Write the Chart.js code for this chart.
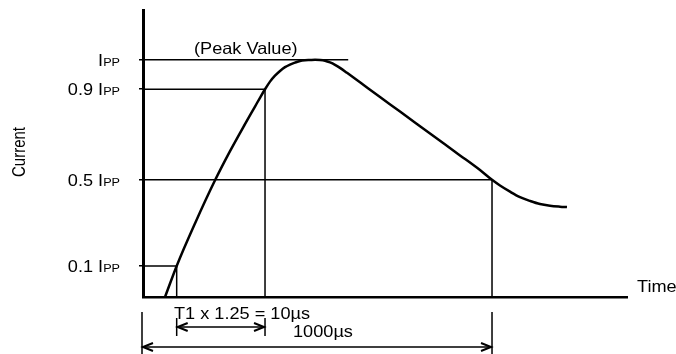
<!DOCTYPE html>
<html>
<head>
<meta charset="utf-8">
<script src="https://cdn.jsdelivr.net/npm/chart.js@4/dist/chart.umd.min.js"></script>
<style>
  html, body { margin: 0; padding: 0; background: #fff; }
  #wrap { width: 676px; height: 354px; position: relative; }
</style>
</head>
<body>
<div id="wrap"><canvas id="surge"></canvas></div>
<script>
// waveform (relative time units, current as fraction of Ipp)
const TIME = [4.55, 6.96, 10.74, 14.88, 17.98, 21.07, 23.14, 24.17, 25.21, 26.24, 27.27, 28.31, 29.34, 30.37, 31.40, 32.44, 33.47, 34.50, 35.54, 36.57, 37.60, 38.64, 39.67, 40.70, 42.15, 44.83, 48.97, 53.10, 59.30, 65.50, 69.63, 72.11, 73.76, 75.83, 77.89, 79.96, 82.02, 84.09, 86.16, 87.60];
const CURRENT = [0, 0.131, 0.310, 0.492, 0.615, 0.729, 0.803, 0.840, 0.876, 0.908, 0.933, 0.953, 0.969, 0.980, 0.988, 0.995, 0.998, 0.999, 1.0, 0.999, 0.996, 0.989, 0.979, 0.966, 0.945, 0.905, 0.843, 0.782, 0.689, 0.597, 0.535, 0.494, 0.470, 0.444, 0.421, 0.405, 0.392, 0.385, 0.381, 0.379];

// reference levels as drawn, their labels and the time where each line stops
const LEVELS = [0.131, 0.494, 0.876, 1.0];
const LEVEL_LABELS = ["0.1 ", "0.5 ", "0.9 ", ""];
const LEVEL_ENDS = [6.96, 72.11, 25.21, 42.4];
const LEVEL_DROP = [true, true, true, false];

// dimension annotations
const T_FRONT = [6.96, 25.21];   // 0.1 Ipp -> 0.9 Ipp
const T_TAIL = [0, 72.11];       // origin -> 0.5 Ipp on the tail
const FRONT_TEXT = "T1 x 1.25 = 10µs";
const TAIL_TEXT = "1000µs";

const FONT = '"Liberation Sans", Arial, sans-serif';
const SX = 1.1; // the scan is a little wider than tall

function drawParts(ctx, parts, x, y, align) {
  let total = 0;
  parts.forEach(p => {
    ctx.font = p.size + "px " + FONT;
    p.w = ctx.measureText(p.text).width * SX;
    total += p.w;
  });
  let cx = align === "right" ? x - total : x;
  ctx.textAlign = "left";
  ctx.textBaseline = "alphabetic";
  parts.forEach(p => {
    ctx.font = p.size + "px " + FONT;
    ctx.save();
    ctx.translate(cx, y);
    ctx.scale(SX, 1);
    ctx.fillText(p.text, 0, 0);
    ctx.restore();
    cx += p.w;
  });
}

function arrowHead(ctx, x, y, dir) {
  ctx.beginPath();
  ctx.moveTo(x - dir * 10, y - 4);
  ctx.lineTo(x, y);
  ctx.lineTo(x - dir * 10, y + 4);
  ctx.stroke();
}

function dimension(ctx, x1, x2, y, top, bottom) {
  ctx.lineWidth = 1.5;
  ctx.beginPath();
  ctx.moveTo(x1, top); ctx.lineTo(x1, bottom);
  ctx.moveTo(x2, top); ctx.lineTo(x2, bottom);
  ctx.moveTo(x1, y); ctx.lineTo(x2, y);
  ctx.stroke();
  ctx.lineWidth = 2;
  arrowHead(ctx, x1 + 1, y, -1);
  arrowHead(ctx, x2 - 1, y, 1);
}

const labelsPlugin = {
  id: "surgeLabels",
  afterDraw(chart) {
    const ctx = chart.ctx;
    const xs = chart.scales.x;
    const ys = chart.scales.y;
    ctx.save();
    ctx.fillStyle = "#000";
    ctx.strokeStyle = "#000";

    LEVELS.forEach((v, i) => {
      const py = ys.getPixelForValue(v) + 6;
      drawParts(ctx, [
        { text: LEVEL_LABELS[i] + "I", size: 16.5 },
        { text: "PP", size: 11.5 }
      ], 120, py, "right");
    });

    drawParts(ctx, [{ text: "(Peak Value)", size: 16.5 }], 194, 54, "left");
    drawParts(ctx, [{ text: "Time", size: 16.5 }], 637, 292, "left");
    drawParts(ctx, [{ text: FRONT_TEXT, size: 16.5 }], 174, 319, "left");
    drawParts(ctx, [{ text: TAIL_TEXT, size: 16.5 }], 293, 337, "left");

    // vertical axis title
    ctx.save();
    ctx.translate(25, 152);
    ctx.rotate(-Math.PI / 2);
    ctx.scale(1, 1.2);
    ctx.font = "15px " + FONT;
    ctx.textAlign = "center";
    ctx.textBaseline = "alphabetic";
    ctx.fillText("Current", 0, 0);
    ctx.restore();

    dimension(ctx, xs.getPixelForValue(T_FRONT[0]), xs.getPixelForValue(T_FRONT[1]), 327, 318, 336);
    dimension(ctx, xs.getPixelForValue(T_TAIL[0]) - 1, xs.getPixelForValue(T_TAIL[1]), 347, 312, 354);
    ctx.restore();
  }
};

const refSets = LEVELS.map((v, i) => {
  const pts = [{ x: 0, y: v }, { x: LEVEL_ENDS[i], y: v }];
  if (LEVEL_DROP[i]) pts.push({ x: LEVEL_ENDS[i], y: 0 });
  return {
    data: pts,
    showLine: true,
    borderColor: "#000",
    borderWidth: 1.5,
    pointRadius: 0,
    tension: 0,
    clip: false
  };
});

const curveSet = {
  data: TIME.map((t, i) => ({ x: t, y: CURRENT[i] })),
  showLine: true,
  borderColor: "#000",
  borderWidth: 2.5,
  pointRadius: 0,
  cubicInterpolationMode: "monotone",
  clip: false
};

new Chart(document.getElementById("surge"), {
  type: "scatter",
  data: { datasets: [...refSets, curveSet] },
  options: {
    responsive: true,
    maintainAspectRatio: false,
    devicePixelRatio: 1,
    animation: false,
    layout: { padding: { top: 10, right: 49, left: 0, bottom: 0 } },
    plugins: { legend: { display: false }, tooltip: { enabled: false } },
    scales: {
      x: {
        type: "linear",
        min: 0,
        max: 100,
        ticks: { display: false },
        grid: { display: false },
        border: { display: true, color: "#000", width: 2.5 },
        afterFit(scale) { scale.height = 57; }
      },
      y: {
        type: "linear",
        min: 0,
        max: 1.21,
        ticks: { display: false },
        afterBuildTicks(scale) { scale.ticks = LEVELS.map(v => ({ value: v })); },
        grid: { display: true, drawOnChartArea: false, drawTicks: true, tickLength: 4, color: "#000", lineWidth: 1.5 },
        border: { display: true, color: "#000", width: 3 },
        afterFit(scale) { scale.width = 143; }
      }
    }
  },
  plugins: [labelsPlugin]
});
</script>
</body>
</html>
